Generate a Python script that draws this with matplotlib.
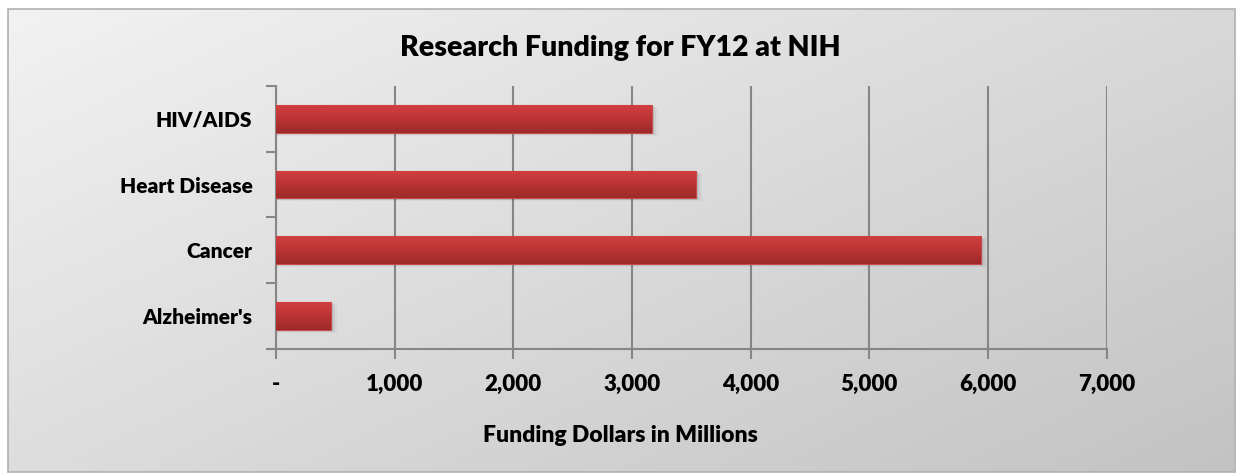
import numpy as np
import matplotlib
matplotlib.use("Agg")
import matplotlib.pyplot as plt
from matplotlib.patches import Rectangle
from matplotlib.colors import LinearSegmentedColormap

plt.rcParams["font.family"] = ["Lato", "DejaVu Sans"]
plt.rcParams["font.weight"] = "bold"

# data (millions of dollars)
categories = ["Alzheimer's", "Cancer", "Heart Disease", "HIV/AIDS"]
funding = [463, 5937, 3536, 3165]
x_ticks = [0, 1000, 2000, 3000, 4000, 5000, 6000, 7000]
x_tick_labels = ["-", "1,000", "2,000", "3,000", "4,000", "5,000", "6,000", "7,000"]

title = "Research Funding for FY12 at NIH"
x_label = "Funding Dollars in Millions"

W, H = 1238, 474
fig = plt.figure(figsize=(W / 100, H / 100), dpi=100)
fig.patch.set_facecolor("white")

# chart area background: diagonal grey gradient inside a thin border
bg = fig.add_axes([0, 0, 1, 1], zorder=0)
bg.set_xlim(0, W)
bg.set_ylim(H, 0)
bg.axis("off")
gx, gy = np.meshgrid(np.linspace(0, 1, 300), np.linspace(0, 1, 120))
grad = 0.55 * gx + 0.45 * gy
bg_cmap = LinearSegmentedColormap.from_list("bg", ["#f2f2f2", "#c3c3c3"])
bg.imshow(grad, cmap=bg_cmap, extent=(8, 1235, 472, 9), aspect="auto",
          interpolation="bilinear")
bg.add_patch(Rectangle((8, 9), 1227, 463, fill=False, edgecolor="#b0b0b0", lw=1.2))

ax = fig.add_axes([276 / W, 1 - 348.7 / H, (1106.7 - 276) / W, (348.7 - 86) / H],
                  zorder=1)
ax.patch.set_alpha(0)

y = np.arange(len(categories))
bar_h = 0.42

# soft shadow under each bar
for yi, v in zip(y, funding):
    for k, a in enumerate([0.08, 0.05, 0.03]):
        off = 20 + k * 15
        ax.add_patch(Rectangle((0, yi - bar_h / 2 - 0.02 - k * 0.012), v + off, bar_h,
                               facecolor="black", alpha=a, edgecolor="none", zorder=2))

bars = ax.barh(y, funding, height=bar_h, color="#c03636", edgecolor="#c84a4a",
               linewidth=0.8, zorder=3)

bar_cmap = LinearSegmentedColormap.from_list("bar", ["#9e2a2a", "#bb3333", "#d24040"])
vg = np.linspace(0, 1, 64).reshape(-1, 1)
for b in bars:
    x0, y0 = b.get_x(), b.get_y()
    im = ax.imshow(vg, cmap=bar_cmap, origin="lower", aspect="auto",
                   extent=(x0, x0 + b.get_width(), y0, y0 + b.get_height()),
                   zorder=3.5, interpolation="bilinear")
    im.set_clip_path(b)

ax.set_xlim(0, 7000)
ax.set_ylim(-0.5, 3.5)

grid_c = "#868686"
ax.set_xticks(x_ticks)
ax.set_xticklabels(x_tick_labels, fontsize=16, fontweight="heavy")
ax.set_yticks(y)
ax.set_yticklabels(categories, fontsize=15, fontweight="heavy")
ax.set_yticks(np.arange(-0.5, 4, 1), minor=True)
ax.tick_params(axis="y", which="major", length=0, pad=17)
ax.tick_params(axis="y", which="minor", length=7, width=1.5, color=grid_c)
ax.tick_params(axis="x", which="major", length=7, width=1.5, color=grid_c, pad=11)
ax.xaxis.grid(True, color=grid_c, linewidth=1.5, zorder=1)
ax.set_axisbelow(True)

for s in ["top", "right"]:
    ax.spines[s].set_visible(False)
for s in ["left", "bottom"]:
    ax.spines[s].set_color(grid_c)
    ax.spines[s].set_linewidth(1.5)

fig.text(620 / W, 1 - 48 / H, title, ha="center", va="center",
         fontsize=20.5, fontweight="heavy", zorder=5)
fig.text(620 / W, 1 - 435 / H, x_label, ha="center", va="center",
         fontsize=16.5, fontweight="heavy", zorder=5)

fig.savefig("out.png", dpi=100)
